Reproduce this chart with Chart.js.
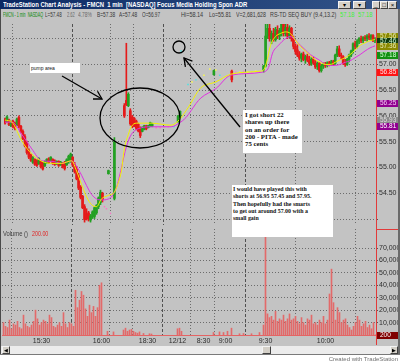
<!DOCTYPE html>
<html>
<head>
<meta charset="utf-8">
<script src="https://cdn.jsdelivr.net/npm/chart.js@4.4.1/dist/chart.umd.min.js"></script>
<style>
  html, body { margin: 0; padding: 0; }
  body { width: 400px; height: 363px; position: relative; overflow: hidden; background: #fff;
         font-family: "Liberation Sans Narrow", "Liberation Sans", Arial, sans-serif; }
  #win { position: absolute; left: 0; top: 0; width: 400px; height: 355px; background: #c3c3c3; }
  #title { position: absolute; left: 0; top: 0; width: 400px; height: 9px;
           background: linear-gradient(to right, #0c2a64, #34568a); }
  #titleText { position: absolute; left: 3px; top: 0; font: bold 7px/9px "Liberation Sans Narrow", Arial;
               color: #fff; white-space: nowrap; transform-origin: left center; }
  .tbtn { position: absolute; top: 1px; height: 6px; background: #d4d0c8; border: 1px solid #f4f4f4;
          border-right-color: #404040; border-bottom-color: #404040; font: 6px/6px Arial; color: #000;
          text-align: center; overflow: hidden; }
  .st { position: absolute; top: 11px; font: 7px/7px "Liberation Sans Narrow", Arial; white-space: nowrap;
        color: #383838; transform-origin: left center; }
  canvas { position: absolute; left: 0; }
  .note { position: absolute; background: #fff; color: #111; white-space: nowrap; }
  .serif { font-family: "Liberation Serif", "Times New Roman", serif; font-weight: bold; }
</style>
</head>
<body>
<div id="win">
  <div id="title"><span id="titleText" data-w="244">TradeStation Chart Analysis - FMCN&nbsp; 1 min&nbsp; [NASDAQ] Focus Media Holding Spon ADR</span></div>
  <div class="tbtn" style="left:338px;width:11px;">&#9662;</div>
  <div class="tbtn" style="left:353px;width:11px;">&#9662;</div>
  <div class="tbtn" style="left:372px;width:6px;">_</div>
  <div class="tbtn" style="left:380px;width:6px;">&#9633;</div>
  <div class="tbtn" style="left:388px;width:7px;">&#215;</div>

  <span class="st" data-w="40" style="left:3px;color:#0b8a0b;">FMCN - 1 min&nbsp; NASDAQ</span>
  <span class="st" data-w="17" style="left:45px;">L=57.48</span>
  <span class="st" data-w="8" style="left:67px;color:#6a6a6a;">2.62</span>
  <span class="st" data-w="14" style="left:78px;color:#6a6a6a;">4.78%</span>
  <span class="st" data-w="18" style="left:97px;">B=57.38</span>
  <span class="st" data-w="18" style="left:119px;">A=57.48</span>
  <span class="st" data-w="18" style="left:142px;">O=56.97</span>
  <span class="st" data-w="22" style="left:181px;">Hi=58.14</span>
  <span class="st" data-w="22" style="left:209px;">Lo=55.81</span>
  <span class="st" data-w="30" style="left:236px;">V=2,681,628</span>
  <span class="st" data-w="66" style="left:270px;">RS-TD SEQ BUY (9.4,13.2)</span>
  <span class="st" data-w="15" style="left:340px;color:#3cf03c;">57.18</span>
  <span class="st" data-w="15" style="left:358px;color:#3cf03c;">57.18</span>

  <canvas id="priceChart" width="398" height="209" style="top:20px;"></canvas>
  <canvas id="volChart" width="398" height="117" style="top:229px;"></canvas>

  <span class="st" data-w="25" style="left:3px;top:230px;color:#404040;">Volume ()</span>
  <span class="st" data-w="16" style="left:32px;top:230px;color:#e02020;">200.00</span>

  <!-- axis rule and pane divider -->
  <div style="position:absolute;left:376px;top:9px;width:1px;height:336px;background:#e23a3a;"></div>
  <div style="position:absolute;left:376px;top:229px;width:22px;height:1px;background:#e23a3a;"></div>

  <!-- scrollbar -->
  <div style="position:absolute;left:1px;top:346px;width:397px;height:8px;background:#ececec;"></div>
  <div class="tbtn" style="left:2px;top:346px;width:6px;font-size:5px;">&#9664;</div>
  <div class="tbtn" style="left:262px;top:346px;width:7px;"></div>
  <div class="tbtn" style="left:390px;top:346px;width:6px;font-size:5px;">&#9654;</div>

  <!-- frame -->
  <div style="position:absolute;left:0;top:9px;width:1px;height:346px;background:#4a4a4a;"></div>
  <div style="position:absolute;left:398px;top:9px;width:2px;height:346px;background:#6a6a6a;"></div>
  <div style="position:absolute;left:0;top:354px;width:400px;height:1px;background:#7a7a7a;"></div>
</div>

<svg width="400" height="363" style="position:absolute;left:0;top:0;" fill="none" stroke="#000" stroke-width="1.3">
  <ellipse cx="140" cy="118" rx="40" ry="30"/>
  <circle cx="179" cy="47" r="6"/>
  <line x1="62" y1="76" x2="102" y2="99"/>
  <polyline points="93,99 102,99 97.5,91.2"/>
  <line x1="240" y1="127" x2="184" y2="58"/>
  <polyline points="192.4,61.2 184,58 185.4,66.9"/>
</svg>

<div class="note" style="left:30px;top:63px;width:50px;height:10px;font:5px/10px 'Liberation Sans',Arial;padding-left:1px;box-sizing:border-box;">pump area</div>
<div class="note serif" style="left:243px;top:110px;width:59px;height:43px;font-size:6.8px;line-height:7.3px;padding:1px 0 0 2px;box-sizing:border-box;">I got short 22<br>shares up there<br>on an order for<br>200 - PITA - made<br>75 cents</div>
<div class="note serif" style="left:232px;top:185px;width:101px;height:52px;font-size:5.9px;line-height:7.3px;padding:1px 0 0 1px;box-sizing:border-box;">I would have played this with<br>shorts at 56.95 57.45 and 57.95.<br>Then hopefully had the smarts<br>to get out around 57.00 with a<br>small gain</div>

<div style="position:absolute;right:2px;top:356px;font:6px/7px 'Liberation Sans Narrow',Arial;color:#707070;">Created with TradeStation</div>

<script>
const _ = null;

// One slot per 1-minute bar (slot 0 = 15:11 on 12/11, slot 186 = last bar on 12/12).
// Slots left null had no trade printed.
const opens = [
  55.94,55.90,55.92,55.81,55.90,55.86,55.82,55.97,55.80,55.70,
  55.60,55.48,55.32,55.24,55.10,55.16,55.13,55.07,55.12,55.08,
  55.03,55.10,55.17,55.13,55.16,55.13,55.07,55.12,55.05,55.08,
  55.10,55.05,55.12,55.14,55.20,55.06,54.96,54.84,54.62,54.44,
  54.24,54.10,54.12,53.98,54.04,54.05,54.12,54.24,54.32,54.50,
  _,_,54.88,_,_,54.40,_,_,_,_,
  56.20,56.30,56.20,56.10,55.98,55.95,55.90,55.84,55.76,55.70,
  55.74,55.81,55.77,55.80,55.80,_,_,_,_,_,
  _,_,_,_,_,_,_,55.89,55.98,_,
  _,_,_,_,_,_,_,_,_,_,
  _,_,_,_,_,56.80,_,_,_,_,
  _,_,_,_,56.87,_,_,_,_,_,
  _,_,_,_,_,_,_,_,_,_,
  56.90,56.97,57.55,57.70,57.50,57.60,57.48,57.66,57.55,57.65,
  57.78,57.60,57.72,57.55,57.70,57.50,57.35,57.28,57.18,57.12,
  57.20,57.10,57.15,57.08,57.02,57.10,57.03,56.96,57.02,56.88,
  56.97,57.00,56.98,57.03,57.00,57.05,57.02,57.18,57.30,57.18,
  57.15,57.02,57.00,57.10,57.18,57.26,57.40,57.35,57.45,57.50,
  57.46,57.52,57.50,57.55,57.52,57.56,57.46
];
const highs = [
  55.96,56.00,55.94,55.90,55.92,55.88,55.96,56.00,55.82,55.73,
  55.64,55.51,55.36,55.26,55.21,55.17,55.15,55.19,55.13,55.10,
  55.13,55.17,55.19,55.21,55.17,55.15,55.13,55.13,55.12,55.10,
  55.12,55.17,55.24,55.28,55.21,55.10,55.02,54.89,54.65,54.46,
  54.28,54.20,54.15,54.09,54.16,54.24,54.28,54.43,54.56,54.52,
  _,_,54.95,_,_,55.58,_,_,_,_,
  56.24,57.41,56.45,56.14,56.01,55.97,55.92,55.86,55.79,55.79,
  55.82,55.82,55.82,55.88,55.86,_,_,_,_,_,
  _,_,_,_,_,_,_,56.01,56.10,_,
  _,_,_,_,_,_,_,_,_,_,
  _,_,_,_,_,56.89,_,_,_,_,
  _,_,_,_,56.89,_,_,_,_,_,
  _,_,_,_,_,_,_,_,_,_,
  56.98,58.14,57.85,57.78,57.65,57.70,57.72,57.75,57.70,57.85,
  57.85,57.80,57.80,57.75,57.72,57.55,57.40,57.38,57.25,57.22,
  57.24,57.18,57.20,57.16,57.13,57.14,57.08,57.05,57.04,57.00,
  57.03,57.04,57.05,57.06,57.08,57.08,57.20,57.35,57.36,57.22,
  57.17,57.10,57.12,57.20,57.28,57.42,57.45,57.48,57.52,57.55,
  57.54,57.56,57.58,57.60,57.58,57.58,57.52
];
const lows = [
  55.84,55.88,55.81,55.79,55.77,55.73,55.81,55.77,55.67,55.54,
  55.40,55.26,55.17,55.12,55.08,55.04,55.02,55.06,54.99,54.95,
  55.02,55.08,55.08,55.12,55.06,55.04,55.06,55.02,55.04,54.99,
  54.95,55.04,55.08,55.10,55.02,54.89,54.76,54.57,54.39,54.20,
  53.94,53.98,53.96,53.94,54.01,54.01,54.09,54.20,54.28,54.33,
  _,_,54.87,_,_,54.37,_,_,_,_,
  55.97,56.20,56.18,55.82,55.77,55.79,55.73,55.69,55.58,55.69,
  55.73,55.73,55.77,55.79,55.79,_,_,_,_,_,
  _,_,_,_,_,_,_,55.88,55.97,_,
  _,_,_,_,_,_,_,_,_,_,
  _,_,_,_,_,56.79,_,_,_,_,
  _,_,_,_,56.66,_,_,_,_,_,
  _,_,_,_,_,_,_,_,_,_,
  56.85,56.95,57.50,57.45,57.40,57.45,57.45,57.50,57.48,57.55,
  57.55,57.55,57.50,57.52,57.45,57.30,57.20,57.15,57.08,57.05,
  57.07,57.02,57.05,56.98,56.98,57.00,56.92,56.90,56.85,56.85,
  56.92,56.94,56.95,56.97,56.98,56.98,57.00,57.15,57.15,57.10,
  57.00,56.96,56.98,57.05,57.15,57.22,57.30,57.32,57.40,57.42,
  57.42,57.46,57.45,57.48,57.46,57.44,57.42
];
const closes = [
  55.86,55.98,55.83,55.88,55.79,55.76,55.94,55.80,55.69,55.56,
  55.42,55.29,55.20,55.14,55.19,55.06,55.04,55.17,55.01,54.97,
  55.12,55.16,55.10,55.20,55.08,55.06,55.12,55.04,55.10,55.01,
  54.98,55.15,55.22,55.26,55.05,54.92,54.78,54.60,54.42,54.22,
  53.99,54.00,54.02,54.06,54.14,54.22,54.26,54.41,54.52,54.38,
  _,_,54.94,_,_,55.50,_,_,_,_,
  56.00,56.22,56.42,55.85,55.80,55.82,55.76,55.71,55.62,55.78,
  55.81,55.75,55.81,55.87,55.85,_,_,_,_,_,
  _,_,_,_,_,_,_,56.00,56.09,_,
  _,_,_,_,_,_,_,_,_,_,
  _,_,_,_,_,56.88,_,_,_,_,
  _,_,_,_,56.70,_,_,_,_,_,
  _,_,_,_,_,_,_,_,_,_,
  56.97,57.55,57.70,57.50,57.60,57.48,57.68,57.55,57.65,57.78,
  57.60,57.72,57.55,57.70,57.50,57.35,57.25,57.18,57.12,57.20,
  57.09,57.15,57.08,57.02,57.10,57.03,56.95,57.02,56.88,56.97,
  57.00,56.98,57.03,57.00,57.05,57.02,57.18,57.30,57.18,57.16,
  57.02,57.00,57.10,57.18,57.26,57.40,57.35,57.45,57.50,57.46,
  57.52,57.50,57.55,57.52,57.56,57.46,57.48
];
const volumes = [
  10000,7000,6000,12000,5000,9000,8000,11000,6000,5000,
  16000,9000,7000,6000,8000,11000,20000,13000,8000,10000,
  12000,11000,9000,16000,14000,7000,6000,8000,10000,7000,
  18000,9000,6000,10000,9000,7000,36000,22000,28000,35000,
  32000,21000,15000,24000,18000,23000,15000,22000,40000,42000,
  _,_,3000,_,_,2500,_,_,_,_,
  4000,5500,3000,4000,4500,3000,2000,1500,2500,_,
  1200,_,_,1000,800,_,_,_,_,_,
  _,_,_,_,_,_,_,5000,5500,3000,
  _,_,_,_,_,_,_,_,_,_,
  _,_,_,_,_,2000,_,_,2500,_,
  2000,_,3000,_,5500,_,_,_,1000,_,
  1200,_,_,_,1000,_,_,_,2000,_,
  8000,215000,17000,14000,15000,12000,19000,11000,13000,12000,
  16000,11000,13000,17000,12000,13000,15000,11000,9000,14000,
  10000,8000,13000,12000,16000,9000,10000,8000,12000,10000,
  15000,9000,12000,33000,53000,26000,12000,22000,18000,10000,
  12000,13000,8000,6000,4000,7000,10000,15000,12000,7000,
  9000,11000,6000,8000,5000,10000,200
];

// Moving averages, [slot, price]
const fastAvg = [
  [0,55.92],[3.5,55.88],[8.5,55.51],[13.5,55.26],[18.5,55.12],[23.5,55.08],[28.5,55.08],[33.5,55.13],
  [36,54.93],[38.5,54.67],[41,54.43],[43.5,54.28],[46,54.24],[48.5,54.39],[52,54.46],[55,54.52],
  [57,54.71],[58.5,54.93],[60,55.36],[62,55.64],[63.5,55.79],[66,55.86],[73.5,55.86],[83.5,55.82],
  [87.5,55.92],[91,56.10],[93.5,56.25],[96,56.42],[98.5,56.55],[106,56.66],[113.5,56.81],[128.5,56.87],
  [130,56.89],[131.5,57.04],[133.5,57.37],[136,57.54],[138.5,57.60],[141,57.63],[143.5,57.60],[146,57.47],
  [148.5,57.35],[151,57.26],[153.5,57.17],[156,57.09],[158.5,57.04],[161,57.00],[163.5,57.00],[166,57.04],
  [168.5,57.09],[171,57.13],[173.5,57.19],[176,57.28],[178.5,57.37],[181,57.42],[183.5,57.46],[186,57.48]
];
const slowAvg = [
  [0,55.88],[3.5,55.88],[8.5,55.64],[13.5,55.36],[18.5,55.13],[23.5,55.12],[28.5,55.08],[33.5,55.13],
  [36,55.02],[38.5,54.85],[41,54.65],[43.5,54.48],[46,54.39],[48.5,54.37],[52,54.39],[56,54.61],
  [58.5,54.99],[61,55.40],[63.5,55.64],[68.5,55.77],[73.5,55.79],[83.5,55.79],[87.5,55.86],[91,55.97],
  [93.5,56.10],[96,56.24],[98.5,56.35],[106,56.53],[113.5,56.79],[129.5,56.85],[132.5,56.94],[134.5,57.22],
  [137.5,57.37],[141,57.50],[143.5,57.54],[146,57.47],[148.5,57.37],[151,57.28],[153.5,57.19],[156,57.13],
  [158.5,57.07],[161,57.00],[163.5,56.98],[166,56.98],[168.5,57.00],[171,57.04],[173.5,57.07],[176,57.13],
  [178.5,57.19],[181,57.26],[183.5,57.32],[186,57.36]
];

// Single-print extended-hours ticks, [slot, price]
const tdCyan = [[85,55.79],[88.5,57.26],[92,56.61],[96,56.70],[108,56.79]];
const tdYellow = [[94,56.66],[100,56.79],[103,56.91],[106,56.89],[118,56.85],[122,56.85],[126,56.87]];
const tdPink = [[50,54.24],[51,54.20],[53,54.11],[54,54.43],[76,55.77],[78,55.77],[80,55.79],[82,55.79],
                [116,56.85],[120,56.87],[124,56.83],[128,56.85]];

const timeSlots = [19, 49, 57, 72, 87, 100, 111, 131, 161];
const timeLabels = ['15:30', '16:00', '', '18:30', '12/12', '8:30', '9:00', '9:30', '10:00'];
const sessionBreaks = [49, 87, 131];
const priceTicks = [54.00, 54.50, 55.00, 55.50, 56.00, 56.50, 57.00, 57.50];
const volumeTicks = [10000, 20000, 30000, 40000, 50000, 60000, 70000];
const priceMarkers = [57.56, 57.46, 57.36, 57.18, 56.85, 56.25, 55.93, 55.81];
const lastVolume = 200;

// ---- drawing ----
const markerStyles = [
  ['#8a8a00', '#ececb8'], ['#0f3a0f', '#d0ffd0'], ['#8a8a00', '#ececb8'], ['#119011', '#d8ffd8'],
  ['#ff1414', '#ffe4e4'], ['#900090', '#f4c8f4'], ['#8c8c8c', '#dcdcdc'], ['#900090', '#ffffff']
];
const UP = '#22a022', DOWN = '#e51a1a';
const AXIS_FONT = { family: '"Liberation Sans Narrow", Arial', size: 7 };
const GRID = '#6c6c6c';
const PX_PER_DOLLAR = 53.6;
const P_MAX = 57 + 42 / PX_PER_DOLLAR;
const P_MIN = P_MAX - 209 / PX_PER_DOLLAR;
const V_MAX = 106 / 87 * 70000;

const slots = opens.map((v, i) => i).filter(i => opens[i] !== null);
const isUp = i => closes[i] >= opens[i];
const barColors = slots.map(i => isUp(i) ? UP : DOWN);
const toPts = arr => arr.map(([x, y]) => ({ x, y }));

const xCommon = {
  type: 'linear', max: 186.5, offset: false,
  afterBuildTicks: s => { s.ticks = timeSlots.map(v => ({ value: v })); },
  grid: { drawTicks: false, lineWidth: 1,
          color: c => (c.tick && sessionBreaks.includes(c.tick.value)) ? '#505050' : GRID }
};
const gridDash = c => (c.tick && sessionBreaks.includes(c.tick.value)) ? [3, 2] : [1, 2];

const valueBoxes = {
  id: 'valueBoxes',
  afterDraw(chart) {
    const ctx = chart.ctx, y = chart.scales.y;
    ctx.save();
    ctx.font = '6.5px "Liberation Sans Narrow", Arial';
    ctx.textBaseline = 'middle';
    const list = chart.canvas.id === 'priceChart'
      ? priceMarkers.map((v, k) => [v, v.toFixed(2), markerStyles[k]])
      : [[lastVolume, String(lastVolume), ['#800000', '#ffffff']]];
    list.forEach(([v, txt, st]) => {
      const py = Math.round(y.getPixelForValue(v));
      ctx.fillStyle = st[0];
      ctx.fillRect(377, py - 3, 21, 7);
      ctx.fillStyle = st[1];
      ctx.fillText(txt, 380, py + 0.5);
    });
    ctx.restore();
  }
};

new Chart(document.getElementById('priceChart'), {
  type: 'bar',
  data: {
    datasets: [
      { type: 'line', data: toPts(fastAvg), borderColor: '#f2f200', borderWidth: 1, pointRadius: 0,
        cubicInterpolationMode: 'monotone', order: 0 },
      { type: 'line', data: toPts(slowAvg), borderColor: '#e030e0', borderWidth: 1, pointRadius: 0,
        cubicInterpolationMode: 'monotone', order: 0 },
      { type: 'line', data: toPts(tdCyan), showLine: false, pointStyle: 'rect', pointRadius: 1,
        pointBackgroundColor: '#3fe6e6', pointBorderWidth: 0, order: 1 },
      { type: 'line', data: toPts(tdYellow), showLine: false, pointStyle: 'rect', pointRadius: 1,
        pointBackgroundColor: '#ffff40', pointBorderWidth: 0, order: 1 },
      { type: 'line', data: toPts(tdPink), showLine: false, pointStyle: 'rect', pointRadius: 1,
        pointBackgroundColor: '#ff70c8', pointBorderWidth: 0, order: 1 },
      { data: slots.map(i => ({ x: i, y: [lows[i], highs[i]] })), backgroundColor: barColors,
        barThickness: 1, grouped: false, order: 3 },
      { data: slots.map(i => ({ x: i, y: [Math.min(opens[i], closes[i]), Math.max(opens[i], closes[i])] })),
        backgroundColor: barColors, barThickness: 2, minBarLength: 1, grouped: false, order: 2 }
    ]
  },
  options: {
    responsive: false, animation: false, devicePixelRatio: 1,
    layout: { padding: { left: 2, right: 0, top: 0, bottom: 0 } },
    plugins: { legend: { display: false }, tooltip: { enabled: false } },
    scales: {
      x: Object.assign({}, xCommon, {
        min: -0.5,
        ticks: { display: false },
        border: { display: false, dash: gridDash },
        afterFit: s => { s.height = 0; s.paddingLeft = 0; s.paddingRight = 0; }
      }),
      y: {
        position: 'right', min: P_MIN, max: P_MAX,
        afterBuildTicks: s => { s.ticks = priceTicks.map(v => ({ value: v })); },
        ticks: { font: AXIS_FONT, color: '#2e2e2e', padding: 1,
                 callback: v => v === 54 ? '' : v.toFixed(2) },
        grid: { color: GRID, tickColor: '#555', tickLength: 2 },
        border: { color: '#e23a3a', dash: [1, 2] },
        afterFit: s => { s.width = 22; s.paddingTop = 0; s.paddingBottom = 0; }
      }
    }
  },
  plugins: [valueBoxes]
});

new Chart(document.getElementById('volChart'), {
  type: 'bar',
  data: {
    datasets: [
      { data: volumes.map((v, i) => v === null ? null : { x: i, y: v }).filter(p => p),
        backgroundColor: '#e26a6a', barThickness: 1, grouped: false }
    ]
  },
  options: {
    responsive: false, animation: false, devicePixelRatio: 1,
    layout: { padding: { left: 2, right: 0, top: 0, bottom: 0 } },
    plugins: { legend: { display: false }, tooltip: { enabled: false } },
    scales: {
      x: Object.assign({}, xCommon, {
        // a quarter slot shift puts each 1px volume bar on whole pixels
        min: -0.75, max: 186.25,
        ticks: { display: true, autoSkip: false, maxRotation: 0, minRotation: 0, padding: 2,
                 font: AXIS_FONT, color: '#2e2e2e', callback: (v, idx) => timeLabels[idx] },
        border: { display: true, color: '#e46464', dash: gridDash },
        afterFit: s => { s.height = 11; s.paddingLeft = 0; s.paddingRight = 0; }
      }),
      y: {
        position: 'right', min: 0, max: V_MAX,
        afterBuildTicks: s => { s.ticks = volumeTicks.map(v => ({ value: v })); },
        ticks: { font: AXIS_FONT, color: '#2e2e2e', padding: 1,
                 callback: v => v.toLocaleString('en-US') },
        grid: { color: GRID, tickColor: '#555', tickLength: 2 },
        border: { color: '#e23a3a', dash: [1, 2] },
        afterFit: s => { s.width = 22; s.paddingTop = 0; s.paddingBottom = 0; }
      }
    }
  },
  plugins: [valueBoxes]
});

// small caption texts are squeezed to their measured widths
document.querySelectorAll('[data-w]').forEach(el => {
  el.style.transform = 'scaleX(' + (Number(el.dataset.w) / el.offsetWidth) + ')';
});
</script>
</body>
</html>
